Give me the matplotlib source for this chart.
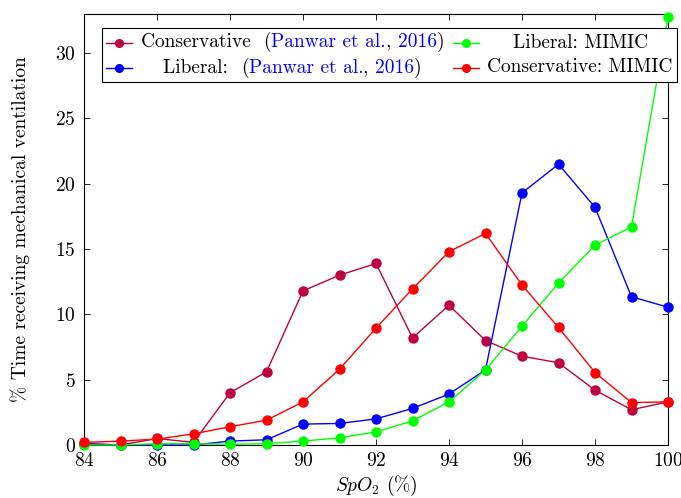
import matplotlib
matplotlib.use("Agg")
import matplotlib.pyplot as plt
from matplotlib.lines import Line2D
from matplotlib.offsetbox import AnchoredOffsetbox, DrawingArea, HPacker, VPacker, TextArea

plt.rcParams['font.family'] = 'serif'
plt.rcParams['font.serif'] = ['cmr10']
plt.rcParams['mathtext.fontset'] = 'cm'
plt.rcParams['axes.formatter.use_mathtext'] = True

FS = 14

spo2 = [84, 85, 86, 87, 88, 89, 90, 91, 92, 93, 94, 95, 96, 97, 98, 99, 100]

cons_panwar = [0.1, 0.0, 0.5, 0.2, 4.0, 5.6, 11.8, 13.0, 13.9, 8.2, 10.7, 8.0, 6.8, 6.3, 4.2, 2.7, 3.3]
lib_panwar = [0.1, 0.0, 0.0, 0.0, 0.3, 0.4, 1.6, 1.65, 2.0, 2.8, 3.9, 5.75, 19.3, 21.5, 18.2, 11.35, 10.55]
lib_mimic = [0.0, 0.0, 0.1, 0.1, 0.05, 0.1, 0.3, 0.55, 1.0, 1.85, 3.3, 5.75, 9.1, 12.4, 15.3, 16.7, 32.8]
cons_mimic = [0.2, 0.3, 0.45, 0.85, 1.4, 1.9, 3.3, 5.8, 8.95, 11.95, 14.8, 16.2, 12.25, 9.0, 5.55, 3.25, 3.3]

series = [
    (cons_panwar, '#BF0040'),
    (lib_panwar, '#0000FF'),
    (lib_mimic, '#00FF00'),
    (cons_mimic, '#FF0000'),
]

fig = plt.figure(figsize=(6.81, 4.98), dpi=100)
ax = fig.add_axes([84 / 681, 53 / 498, 584 / 681, 431 / 498])

for vals, c in series:
    ax.plot(spo2, vals, '-o', color=c, lw=1, ms=6.5, clip_on=False, zorder=3)

ax.set_xlim(84, 100)
ax.set_ylim(0, 33)
ax.set_xticks([84, 86, 88, 90, 92, 94, 96, 98, 100])
ax.set_yticks([0, 5, 10, 15, 20, 25, 30])
ax.tick_params(direction='in', top=True, right=True, length=4, labelsize=FS, width=0.6)
ax.tick_params(axis='x', pad=5)
ax.tick_params(axis='y', pad=6)
for s in ax.spines.values():
    s.set_linewidth(0.8)
ax.set_xlabel('$SpO_2$ (%)', fontsize=FS, labelpad=3)
ax.set_ylabel('% Time receiving mechanical ventilation', fontsize=FS, labelpad=18)


# legend with partly coloured citations
def icon(color):
    da = DrawingArea(19, 8, 0, 0)
    da.add_artist(Line2D([0, 19], [4, 4], color=color, lw=1))
    da.add_artist(Line2D([9.5], [4], color=color, marker='o', ms=5.5))
    return da


def label(parts):
    return HPacker(children=[TextArea(t, textprops=dict(color=c, fontsize=FS)) for t, c in parts],
                   pad=0, sep=0)


cite = [('(', 'k'), ('Panwar et al.', '#0000FF'), (', ', 'k'), ('2016', '#0000FF'), (')', 'k')]
col1_txt = VPacker(children=[label([('Conservative  ', 'k')] + cite),
                             label([('Liberal:  ', 'k')] + cite)], align='center', pad=0, sep=4)
col2_txt = VPacker(children=[label([('Liberal: MIMIC', 'k')]),
                             label([('Conservative: MIMIC', 'k')])], align='center', pad=0, sep=4)
col1_ico = VPacker(children=[icon('#BF0040'), icon('#0000FF')], pad=0, sep=10)
col2_ico = VPacker(children=[icon('#00FF00'), icon('#FF0000')], pad=0, sep=10)
box = HPacker(children=[col1_ico, col1_txt, col2_ico, col2_txt], align='center', pad=0, sep=6)
anch = AnchoredOffsetbox(loc='upper right', child=box, pad=0.3, borderpad=0, frameon=True,
                         bbox_to_anchor=(1.0154, 0.9675), bbox_transform=ax.transAxes)
anch.patch.set_edgecolor('k')
anch.patch.set_linewidth(0.8)
anch.patch.set_boxstyle('square', pad=0)
ax.add_artist(anch)

fig.savefig('out.png', dpi=100)
